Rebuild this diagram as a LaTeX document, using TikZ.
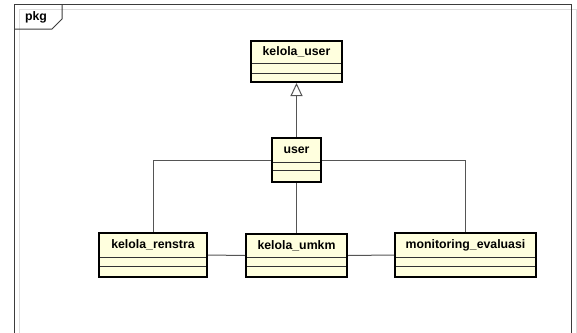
\documentclass[tikz,border=0pt]{standalone}
\usepackage{fontspec}
\setmainfont{Liberation Sans}
\usetikzlibrary{arrows.meta}
\definecolor{classfill}{RGB}{255,255,222}
\definecolor{frameline}{RGB}{60,60,60}
\definecolor{connline}{RGB}{85,85,85}
\definecolor{shade}{RGB}{222,222,222}
\pgfdeclarelayer{background}
\pgfsetlayers{background,main}
% UML class: id, title, left, top, right, bottom, first and second compartment rules
\newcommand\umlclass[8]{%
  \begin{pgfonlayer}{background}
    \fill[shade] (#3+4,#4+4) rectangle (#5+4,#6+4);
  \end{pgfonlayer}
  \node[classbody, minimum width=#5-#3, minimum height=#6-#4] (#1) at ({(#3+#5)/2},{(#4+#6)/2}) {};
  \draw[compline] (#3,#7) -- (#5,#7) (#3,#8) -- (#5,#8);
  \draw[line width=2pt] (#3,#4) rectangle (#5,#6);
  \node[classtitle] (#1-name) at ({(#3+#5)/2},{(#4+#7)/2}) {#2};
}
\begin{document}
\begin{tikzpicture}[x=1pt,y=-1pt,
  classbody/.style={fill=classfill, draw=none, inner sep=0pt, outer sep=1pt},
  compline/.style={draw=black!80, line width=0.9pt},
  classtitle/.style={inner sep=0pt, font=\bfseries\fontsize{12.3}{14}\selectfont},
  assoc/.style={draw=connline, line width=1pt},
  assocshade/.style={draw=shade, line width=1pt, shift={(5,5)}},
  frame/.style={draw=frameline, line width=1pt}
]
\useasboundingbox (0,0) rectangle (577,332);
\fill[white] (0,0) rectangle (577,332);

% package frame with its shadow and name tab
\draw[draw=shade, line width=1pt] (19,340) -- (19,9) -- (576,9) -- (576,340);
\draw[frame] (14,340) -- (14,4) -- (571,4) -- (571,340);
\draw[frame] (14,29) -- (52,29) -- (62,19) -- (62,4);
\node[inner sep=0pt, font=\bfseries\fontsize{12.3}{14}\selectfont] (pkg) at (36,17) {pkg};

% classes
\umlclass{kelolauser}{kelola\_user}{251}{41}{342}{82}{63}{73}
\umlclass{user}{user}{272}{138}{321}{182}{162}{170}
\umlclass{renstra}{kelola\_renstra}{99}{233}{207}{277}{257}{266}
\umlclass{umkm}{kelola\_umkm}{246}{234}{347}{277}{257}{266}
\umlclass{monev}{monitoring\_evaluasi}{395}{233}{536}{277}{257}{266}

% connector shadows
\begin{pgfonlayer}{background}
  \draw[assocshade] (user.north) -- (kelolauser.south);
  \draw[assocshade] (user.west) -| (renstra.north);
  \draw[assocshade] (user.east) -| (monev.north);
  \draw[assocshade] (user.south) -- (umkm.north);
  \draw[assocshade] (renstra.east) -- (umkm.west);
  \draw[assocshade] (umkm.east) -- (monev.west);
\end{pgfonlayer}

% generalization and associations
\draw[assoc, -{Triangle[open, length=13pt, width=12pt, fill=white]}] (user.north) -- (kelolauser.south);
\draw[assoc] (user.west) -| (renstra.north);
\draw[assoc] (user.east) -| (monev.north);
\draw[assoc] (user.south) -- (umkm.north);
\draw[assoc] (renstra.east) -- (umkm.west);
\draw[assoc] (umkm.east) -- (monev.west);
\end{tikzpicture}
\end{document}
